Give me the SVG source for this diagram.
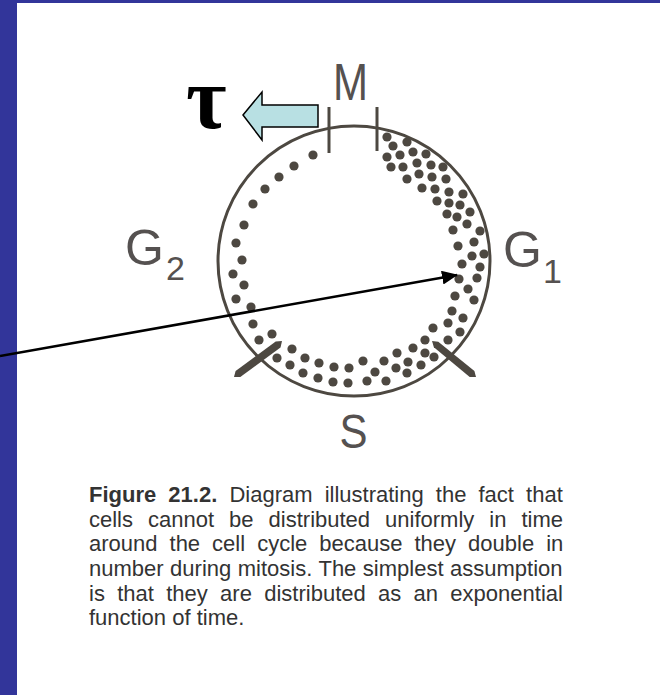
<svg xmlns="http://www.w3.org/2000/svg" width="660" height="695" viewBox="0 0 660 695">
<style>
.lbl{font-family:"Liberation Sans",Arial,sans-serif;fill:#555150;}
.cap{font-family:"Liberation Sans",Arial,sans-serif;font-size:22px;fill:#333;}
.dots circle{fill:#4d4841;}
</style>
<defs>
<marker id="ah" viewBox="0 0 16 14" refX="15" refY="7" markerWidth="16" markerHeight="14" markerUnits="userSpaceOnUse" orient="auto">
<path d="M0,0 L16,7 L0,14 Z" fill="#000"/>
</marker>
</defs>
<rect x="0" y="0" width="660" height="695" fill="#ffffff"/>
<rect x="0" y="0" width="660" height="3" fill="#32359a"/>
<rect x="0" y="0" width="17" height="695" fill="#32359a"/>

<g id="cycle">
<ellipse cx="354" cy="261" rx="136" ry="135" fill="none" stroke="#4d4841" stroke-width="3"/>
<line x1="329" y1="107" x2="329" y2="153" stroke="#4d4841" stroke-width="3"/>
<line x1="377" y1="107" x2="377" y2="151" stroke="#4d4841" stroke-width="3"/>
<polygon points="234,377 240.3,377 280.5,347.5 282,341 275.7,341.6 235.6,371" fill="#4d4841"/>
<polygon points="476,377 474.4,371 438.3,341.8 432,341 433.9,347.2 469.7,377" fill="#4d4841"/>
</g>

<g id="dots" class="dots">
<circle cx="313" cy="155" r="4.6"/><circle cx="294" cy="166" r="4.6"/><circle cx="279" cy="177" r="4.6"/><circle cx="265" cy="189" r="4.6"/><circle cx="253" cy="204" r="4.6"/><circle cx="244" cy="225" r="4.6"/><circle cx="236" cy="243" r="4.6"/><circle cx="242" cy="260" r="4.6"/><circle cx="233" cy="274" r="4.6"/><circle cx="244" cy="285" r="4.6"/><circle cx="236" cy="299" r="4.6"/><circle cx="251" cy="307" r="4.6"/><circle cx="253" cy="324" r="4.6"/><circle cx="272" cy="334" r="4.6"/><circle cx="259" cy="340" r="4.6"/>
<circle cx="292" cy="349" r="4.6"/><circle cx="277" cy="358" r="4.6"/><circle cx="305" cy="358" r="4.6"/><circle cx="290" cy="365" r="4.6"/><circle cx="319" cy="363" r="4.6"/><circle cx="303" cy="373" r="4.6"/><circle cx="334" cy="367" r="4.6"/><circle cx="349" cy="368" r="4.6"/><circle cx="318" cy="378" r="4.6"/><circle cx="333" cy="382" r="4.6"/><circle cx="348" cy="383" r="4.6"/><circle cx="363" cy="361" r="4.6"/><circle cx="375" cy="372" r="4.6"/><circle cx="367" cy="381" r="4.6"/><circle cx="384" cy="361" r="4.6"/><circle cx="386" cy="381" r="4.6"/><circle cx="397" cy="353" r="4.6"/><circle cx="396" cy="368" r="4.6"/><circle cx="407" cy="373" r="4.6"/><circle cx="413" cy="348" r="4.6"/><circle cx="408" cy="362" r="4.6"/><circle cx="421" cy="365" r="4.6"/><circle cx="425" cy="353" r="4.6"/><circle cx="425" cy="340" r="4.6"/><circle cx="434" cy="357" r="4.6"/><circle cx="433" cy="328" r="4.6"/><circle cx="448" cy="340" r="4.6"/><circle cx="448" cy="323" r="4.6"/>
<circle cx="387" cy="137" r="4.6"/><circle cx="393" cy="146" r="4.6"/><circle cx="407" cy="142" r="4.6"/><circle cx="387" cy="157" r="4.6"/><circle cx="400" cy="155" r="4.6"/><circle cx="413" cy="152" r="4.6"/><circle cx="426" cy="154" r="4.6"/><circle cx="391" cy="167" r="4.6"/><circle cx="403" cy="167" r="4.6"/><circle cx="417" cy="163" r="4.6"/><circle cx="431" cy="165" r="4.6"/><circle cx="443" cy="167" r="4.6"/><circle cx="407" cy="179" r="4.6"/><circle cx="419" cy="174" r="4.6"/><circle cx="432" cy="177" r="4.6"/><circle cx="446" cy="179" r="4.6"/><circle cx="422" cy="188" r="4.6"/><circle cx="435" cy="189" r="4.6"/><circle cx="449" cy="192" r="4.6"/><circle cx="463" cy="194" r="4.6"/><circle cx="437" cy="201" r="4.6"/><circle cx="449" cy="203" r="4.6"/><circle cx="460" cy="205" r="4.6"/><circle cx="447" cy="214" r="4.6"/><circle cx="457" cy="217" r="4.6"/><circle cx="470" cy="212" r="4.6"/><circle cx="467" cy="224" r="4.6"/><circle cx="453" cy="230" r="4.6"/><circle cx="480" cy="231" r="4.6"/>
<circle cx="458" cy="246" r="4.6"/><circle cx="474" cy="242" r="4.6"/><circle cx="472" cy="256" r="4.6"/><circle cx="484" cy="254" r="4.6"/><circle cx="462" cy="264" r="4.6"/><circle cx="480" cy="267" r="4.6"/><circle cx="459" cy="279" r="4.6"/><circle cx="477" cy="278" r="4.6"/><circle cx="468" cy="289" r="4.6"/><circle cx="455" cy="296" r="4.6"/><circle cx="474" cy="300" r="4.6"/><circle cx="452" cy="311" r="4.6"/><circle cx="463" cy="318" r="4.6"/><circle cx="460" cy="332" r="4.6"/>
</g>

<g id="label-M"><text class="lbl" x="333" y="100" font-size="51" textLength="35" lengthAdjust="spacingAndGlyphs">M</text></g>
<g id="label-G2"><text class="lbl" x="125" y="265" font-size="50">G<tspan font-size="34" dy="15" dx="2">2</tspan></text></g>
<g id="label-G1"><text class="lbl" x="503" y="267" font-size="50">G<tspan font-size="34" dy="16" dx="1">1</tspan></text></g>
<g id="label-S"><text class="lbl" x="353.5" y="448" font-size="48" text-anchor="middle" textLength="28" lengthAdjust="spacingAndGlyphs">S</text></g>

<g id="tau"><text x="186" y="128" font-family="'Liberation Serif','Times New Roman',serif" font-weight="bold" font-size="88" fill="#000">τ</text></g>
<g id="tau-arrow"><polygon points="243,115 262,92 262,105 318,105 318,127 262,127 262,140" fill="#b8e0e3" stroke="#000" stroke-width="1.5"/></g>

<g id="connectors">
<line x1="0" y1="356" x2="457" y2="275" stroke="#000" stroke-width="2.5" marker-end="url(#ah)"/>
</g>

<g id="caption">
<text class="cap" x="89" y="502" word-spacing="6"><tspan font-weight="bold">Figure 21.2.</tspan> Diagram illustrating the fact that</text>
<text class="cap" x="89" y="527" word-spacing="8.9">cells cannot be distributed uniformly in time</text>
<text class="cap" x="89" y="551" word-spacing="5.9">around the cell cycle because they double in</text>
<text class="cap" x="89" y="576" word-spacing="0.4">number during mitosis. The simplest assumption</text>
<text class="cap" x="89" y="601" word-spacing="6.2">is that they are distributed as an exponential</text>
<text class="cap" x="89" y="625">function of time.</text>
</g>
</svg>
